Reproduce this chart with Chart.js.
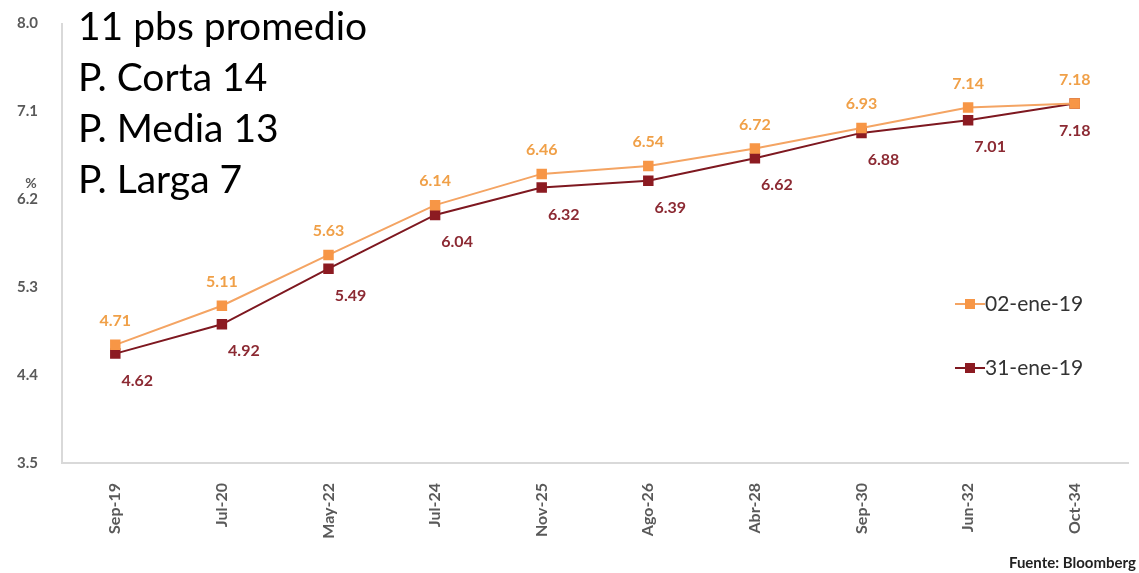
<!DOCTYPE html>
<html>
<head>
<meta charset="utf-8">
<script src="https://cdn.jsdelivr.net/npm/chart.js@4/dist/chart.umd.min.js"></script>
<style>
  body { margin: 0; background: #fff; }
  #wrap { position: relative; width: 1139px; height: 573px; }
  #note { position: absolute; left: 78px; top: 0px; font-family: Lato, sans-serif; font-size: 39px; line-height: 51px; color: #000; }
  #source { position: absolute; right: 3px; top: 553px; font-family: Lato, sans-serif; font-weight: bold; font-size: 15px; color: #222; }
</style>
</head>
<body>
<div id="wrap">
  <canvas id="myChart" width="1139" height="573"></canvas>
  <div id="note">11 pbs promedio<br>P. Corta 14<br>P. Media 13<br>P. Larga 7</div>
  <div id="source">Fuente: Bloomberg</div>
</div>
<script>
const categories = ['Sep-19', 'Jul-20', 'May-22', 'Jul-24', 'Nov-25', 'Ago-26', 'Abr-28', 'Sep-30', 'Jun-32', 'Oct-34'];
const jan02 = [4.71, 5.11, 5.63, 6.14, 6.46, 6.54, 6.72, 6.93, 7.14, 7.18];
const jan31 = [4.62, 4.92, 5.49, 6.04, 6.32, 6.39, 6.62, 6.88, 7.01, 7.18];
const yTicks = [3.5, 4.4, 5.3, 6.2, 7.1, 8.0];

const orange = '#F79646';
const darkRed = '#8C1B22';

// value labels: first series above the points, second below and a bit to the right
const valueLabels = {
  id: 'valueLabels',
  afterDatasetsDraw(chart) {
    const ctx = chart.ctx;
    ctx.save();
    ctx.font = 'bold 16px Lato';
    ctx.textAlign = 'center';
    ctx.textBaseline = 'middle';
    chart.data.datasets.forEach((ds, i) => {
      const meta = chart.getDatasetMeta(i);
      meta.data.forEach((pt, j) => {
        const txt = ds.data[j].toFixed(2);
        if (i === 0) {
          ctx.fillStyle = '#F0A048';
          ctx.fillText(txt, pt.x, pt.y - 24);
        } else {
          ctx.fillStyle = '#8C2A33';
          const dx = j === ds.data.length - 1 ? 0 : 22;
          ctx.fillText(txt, pt.x + dx, pt.y + 27);
        }
      });
    });
    ctx.restore();
  }
};

// legend on the right, plus the % unit mark
const sideLegend = {
  id: 'sideLegend',
  afterDraw(chart) {
    const ctx = chart.ctx;
    const area = chart.chartArea;
    ctx.save();
    chart.data.datasets.forEach((ds, i) => {
      const x = area.right - 173;
      const y = 304 + i * 64;
      ctx.strokeStyle = ds.borderColor;
      ctx.lineWidth = 2;
      ctx.beginPath();
      ctx.moveTo(x, y);
      ctx.lineTo(x + 30, y);
      ctx.stroke();
      ctx.fillStyle = ds.pointBackgroundColor;
      ctx.fillRect(x + 10, y - 5, 10, 10);
      ctx.fillStyle = '#333';
      ctx.font = '21px Lato';
      ctx.textAlign = 'left';
      ctx.textBaseline = 'middle';
      ctx.fillText(ds.label, x + 30, y);
    });
    const yScale = chart.scales.y;
    ctx.fillStyle = '#595959';
    ctx.font = 'bold 14px Lato';
    ctx.textAlign = 'center';
    ctx.textBaseline = 'middle';
    ctx.fillText('%', 31, yScale.getPixelForValue(6.2) - 16);
    ctx.restore();
  }
};

const ctx = document.getElementById('myChart').getContext('2d');
const chart = new Chart(ctx, {
  type: 'line',
  data: {
    labels: categories,
    datasets: [{
      label: '02-ene-19',
      data: jan02,
      borderColor: '#F4A463',
      backgroundColor: orange,
      pointBackgroundColor: orange,
      pointBorderColor: orange,
      pointStyle: 'rect',
      pointRadius: 6,
      borderWidth: 2,
      tension: 0
    }, {
      label: '31-ene-19',
      data: jan31,
      borderColor: '#7E1820',
      backgroundColor: darkRed,
      pointBackgroundColor: darkRed,
      pointBorderColor: darkRed,
      pointStyle: 'rect',
      pointRadius: 6,
      borderWidth: 2,
      tension: 0
    }]
  },
  plugins: [valueLabels, sideLegend],
  options: {
    responsive: false,
    animation: false,
    layout: { padding: { top: 12, right: 11, left: 0, bottom: 0 } },
    plugins: {
      legend: { display: false },
      tooltip: { enabled: false }
    },
    scales: {
      x: {
        offset: true,
        grid: { display: false },
        border: { display: true, color: '#D9D9D9', width: 2 },
        ticks: {
          minRotation: 90,
          maxRotation: 90,
          padding: 12,
          color: '#595959',
          font: { family: 'Lato', weight: 'bold', size: 16 }
        },
        afterFit(scale) { scale.height = 110; }
      },
      y: {
        min: 3.5,
        max: 8.0,
        grid: { display: false },
        border: { display: true, color: '#D9D9D9', width: 2 },
        afterBuildTicks(scale) { scale.ticks = yTicks.map(v => ({ value: v })); },
        ticks: {
          padding: 16,
          color: '#595959',
          font: { family: 'Lato', weight: 'bold', size: 15, lineHeight: 1 },
          callback: v => v.toFixed(1)
        },
        afterFit(scale) { scale.width = 62; }
      }
    }
  }
});
</script>
</body>
</html>
